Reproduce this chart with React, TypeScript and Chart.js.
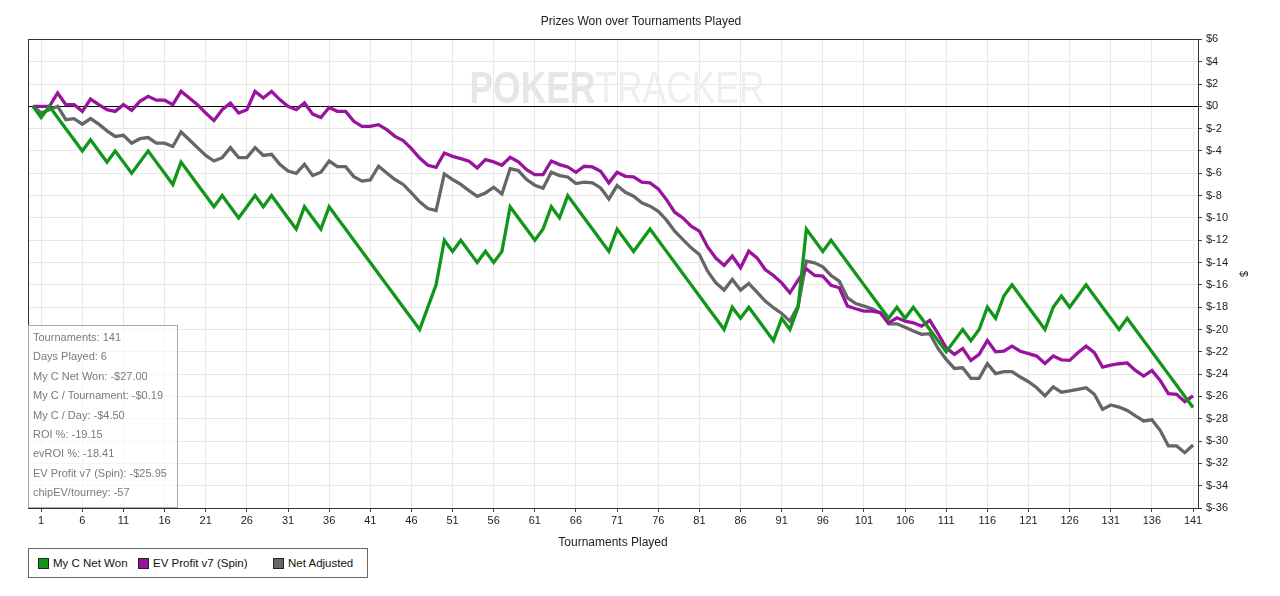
import React, { useEffect, useRef } from "react";
import { Chart, registerables } from "chart.js";

Chart.register(...registerables);

const TITLE = "Prizes Won over Tournaments Played";
const X_TITLE = "Tournaments Played";
const Y_TITLE = "$";
const X_TICKS = [1, 6, 11, 16, 21, 26, 31, 36, 41, 46, 51, 56, 61, 66, 71, 76, 81, 86, 91, 96, 101, 106, 111, 116, 121, 126, 131, 136, 141];
const X_MIN = -0.6;
const X_MAX = 141.6;
const Y_MIN = -36;
const Y_MAX = 6;
const Y_STEP = 2;

const SERIES_NAMES = ["My C Net Won", "EV Profit v7 (Spin)", "Net Adjusted"];

const NET_WON = [
  0, -1, 0, -1, -2, -3, -4, -3, -4, -5, -4, -5, -6, -5, -4, -5, -6, -7, -5, -6,
  -7, -8, -9, -8, -9, -10, -9, -8, -9, -8, -9, -10, -11, -9, -10, -11, -9, -10, -11, -12,
  -13, -14, -15, -16, -17, -18, -19, -20, -18, -16, -12, -13, -12, -13, -14, -13, -14, -13, -9, -10,
  -11, -12, -11, -9, -10, -8, -9, -10, -11, -12, -13, -11, -12, -13, -12, -11, -12, -13, -14, -15,
  -16, -17, -18, -19, -20, -18, -19, -18, -19, -20, -21, -19, -20, -18, -11, -12, -13, -12, -13, -14,
  -15, -16, -17, -18, -19, -18, -19, -18, -19, -20, -21, -22, -21, -20, -21, -20, -18, -19, -17, -16,
  -17, -18, -19, -20, -18, -17, -18, -17, -16, -17, -18, -19, -20, -19, -20, -21, -22, -23, -24, -25,
  -26, -27,
];

const EV_PROFIT = [
  0, 0, 0, 1.2, 0.15, 0.15, -0.45, 0.65, 0.15, -0.3, -0.45, 0.15, -0.35, 0.45, 0.9, 0.55, 0.55, 0.15, 1.35, 0.75,
  0.15, -0.6, -1.28, -0.3, 0.3, -0.6, -0.3, 1.34, 0.75, 1.34, 0.6, 0, -0.3, 0.3, -0.7, -1.0, -0.1, -0.45, -0.45, -1.34,
  -1.8, -1.8, -1.64, -2.09, -2.69, -3.07, -3.79, -4.63, -5.28, -5.46, -4.18, -4.48, -4.69, -4.92, -5.52, -4.78, -4.98, -5.28, -4.57, -4.98,
  -5.67, -6.12, -6.12, -4.9, -5.22, -5.43, -5.91, -5.37, -5.43, -5.82, -6.86, -5.91, -6.27, -6.33, -6.8, -6.86, -7.4, -8.36, -9.49, -10.0,
  -10.74, -11.19, -12.6, -13.6, -14.26, -13.43, -14.47, -12.98, -13.58, -14.62, -15.16, -15.82, -16.71, -15.58, -14.56, -15.16, -15.22, -16.05, -16.26, -17.9,
  -18.14, -18.35, -18.35, -18.5, -19.4, -18.95, -19.25, -19.4, -19.7, -19.19, -20.38, -21.64, -22.23, -21.7, -22.77, -22.23, -20.98, -22.0, -21.95, -21.49,
  -21.95, -22.17, -22.38, -23.05, -22.38, -22.72, -22.77, -22.08, -21.49, -22.08, -23.37, -23.19, -23.07, -23.0, -23.67, -24.17, -23.67, -24.56, -25.75, -25.81,
  -26.47, -25.95,
];

const NET_ADJUSTED = [
  0, -0.6, -0.3, 0, -1.2, -1.1, -1.6, -1.1, -1.6, -2.2, -2.7, -2.6, -3.3, -2.9, -2.8, -3.3, -3.3, -3.6, -2.3, -3.0,
  -3.7, -4.4, -4.9, -4.6, -3.7, -4.6, -4.6, -3.7, -4.4, -4.3, -5.2, -5.8, -6.0, -5.2, -6.2, -5.9, -4.9, -5.4, -5.4, -6.3,
  -6.7, -6.6, -5.37, -5.97, -6.56, -7.0, -7.76, -8.56, -9.16, -9.34, -6.06, -6.56, -7.0, -7.55, -8.06, -7.76, -7.25, -7.85, -5.58, -5.76,
  -6.56, -7.07, -7.34, -5.9, -6.21, -6.33, -6.92, -6.8, -6.86, -7.31, -8.3, -7.1, -7.7, -8.06, -8.65, -8.95, -9.4, -10.2, -11.19, -11.94,
  -12.68, -13.28, -14.77, -15.82, -16.47, -15.52, -16.47, -15.87, -16.65, -17.46, -18.05, -18.56, -19.25, -17.9, -13.88, -14.03, -14.38, -15.16, -15.67, -17.16,
  -17.67, -17.9, -18.14, -18.53, -19.5, -19.49, -19.79, -20.14, -20.44, -20.38, -21.7, -22.68, -23.49, -23.43, -24.38, -24.38, -23.07, -23.96, -23.78, -23.78,
  -24.26, -24.68, -25.22, -25.96, -25.15, -25.62, -25.51, -25.37, -25.22, -25.81, -27.16, -26.77, -26.95, -27.25, -27.75, -28.2, -28.1, -29.04, -30.44, -30.44,
  -31.04, -30.35,
];

const INFO_LINES = [
  "Tournaments: 141",
  "Days Played: 6",
  "My C Net Won: -$27.00",
  "My C / Tournament: -$0.19",
  "My C / Day: -$4.50",
  "ROI %: -19.15",
  "evROI %: -18.41",
  "EV Profit v7 (Spin): -$25.95",
  "chipEV/tourney: -57",
];

const COLORS = ["#12961a", "#9a139f", "#666666"];
const FONT = '"Liberation Sans", Arial, sans-serif';

const toPoints = (arr: number[]) => arr.map((v, i) => ({ x: i, y: v }));

const frameAndWatermark = {
  id: "frameAndWatermark",
  beforeDatasetsDraw(chart: any) {
    const { ctx, chartArea } = chart;
    ctx.save();
    const cx = (chartArea.left + chartArea.right) / 2 + 4;
    const baseY = chartArea.top + 64;
    ctx.font = `bold 44px ${FONT}`;
    const w1 = ctx.measureText("POKER").width;
    ctx.font = `44px ${FONT}`;
    const w2 = ctx.measureText("TRACKER").width;
    const total = w1 + w2;
    const targetW = 295;
    ctx.translate(cx - targetW / 2, baseY);
    ctx.scale(targetW / total, 1);
    ctx.textBaseline = "alphabetic";
    ctx.font = `bold 44px ${FONT}`;
    ctx.fillStyle = "#e6e6e6";
    ctx.fillText("POKER", 0, 0);
    ctx.font = `44px ${FONT}`;
    ctx.fillStyle = "#eeeeee";
    ctx.fillText("TRACKER", w1, 0);
    ctx.restore();

    ctx.save();
    ctx.strokeStyle = "#333";
    ctx.lineWidth = 1;
    ctx.strokeRect(
      Math.round(chartArea.left) + 0.5,
      Math.round(chartArea.top) + 0.5,
      Math.round(chartArea.right - chartArea.left),
      Math.round(chartArea.bottom - chartArea.top)
    );
    ctx.restore();
  },
};

function ChartCanvas() {
  const ref = useRef<HTMLCanvasElement | null>(null);
  useEffect(() => {
    if (!ref.current) return;
    const chart = new Chart(ref.current, {
      type: "line",
      data: {
        datasets: [
          { label: SERIES_NAMES[0], data: toPoints(NET_WON), borderColor: COLORS[0], backgroundColor: COLORS[0], borderWidth: 3.3, pointRadius: 0, tension: 0 },
          { label: SERIES_NAMES[1], data: toPoints(EV_PROFIT), borderColor: COLORS[1], backgroundColor: COLORS[1], borderWidth: 3.3, pointRadius: 0, tension: 0 },
          { label: SERIES_NAMES[2], data: toPoints(NET_ADJUSTED), borderColor: COLORS[2], backgroundColor: COLORS[2], borderWidth: 3.3, pointRadius: 0, tension: 0 },
        ],
      },
      options: {
        responsive: false,
        animation: false,
        devicePixelRatio: 1,
        layout: { padding: { left: 28, right: 26, top: 0, bottom: 46 } },
        plugins: {
          legend: { display: false },
          tooltip: { enabled: false },
          title: {
            display: true,
            text: TITLE,
            color: "#222",
            font: { size: 12, family: FONT, weight: "normal" },
            padding: { top: 14, bottom: 11 },
          },
        },
        scales: {
          x: {
            type: "linear",
            min: X_MIN,
            max: X_MAX,
            afterBuildTicks: (s: any) => {
              s.ticks = X_TICKS.map((v) => ({ value: v }));
            },
            afterFit: (s: any) => {
              s.height = 42;
            },
            ticks: { autoSkip: false, maxRotation: 0, color: "#222", font: { size: 11, family: FONT }, padding: 2 },
            grid: { color: "#e8e8e8", tickLength: 4, tickColor: "#444" },
            border: { display: true, color: "#333" },
            title: { display: true, text: X_TITLE, color: "#222", font: { size: 12, family: FONT }, padding: { top: 3, bottom: 0 } },
          },
          y: {
            position: "right",
            min: Y_MIN,
            max: Y_MAX,
            afterFit: (s: any) => {
              s.width = 56;
            },
            ticks: {
              stepSize: Y_STEP,
              color: "#222",
              font: { size: 11, family: FONT },
              padding: 4,
              callback: (v: any) => (v < 0 ? "$-" + Math.abs(v) : "$" + v),
            },
            grid: {
              color: (c: any) => (c.tick && c.tick.value === 0 ? "#000000" : "#e8e8e8"),
              tickLength: 4,
              tickColor: "#444",
            },
            border: { display: true, color: "#333" },
            title: { display: true, text: Y_TITLE, color: "#222", font: { size: 11, family: FONT } },
          },
        },
      } as any,
      plugins: [frameAndWatermark],
    });
    return () => chart.destroy();
  }, []);
  return <canvas ref={ref} width={1280} height={596} style={{ display: "block", width: 1280, height: 596 }} />;
}

export default function App() {
  const legendOffsets = [9, 109, 244];
  return (
    <div style={{ position: "absolute", left: 0, top: 0, width: 1280, height: 596, background: "#fff", fontFamily: FONT, overflow: "hidden" }}>
      <ChartCanvas />
      <div
        style={{
          position: "absolute",
          left: 28,
          top: 325,
          width: 150,
          height: 183,
          boxSizing: "border-box",
          border: "1px solid #aaaaaa",
          background: "rgba(255,255,255,0.6)",
          padding: "2px 0 0 4px",
          fontSize: 11,
          lineHeight: "19.4px",
          color: "#7a7a7a",
          whiteSpace: "nowrap",
        }}
      >
        {INFO_LINES.map((t) => (
          <div key={t}>{t}</div>
        ))}
      </div>
      <div
        style={{
          position: "absolute",
          left: 28,
          top: 548,
          width: 340,
          height: 30,
          boxSizing: "border-box",
          border: "1px solid #666",
          background: "#fff",
          fontSize: 11.5,
          color: "#111",
        }}
      >
        {SERIES_NAMES.map((name, i) => (
          <div key={name} style={{ position: "absolute", left: legendOffsets[i], top: 0, height: 28, display: "flex", alignItems: "center", whiteSpace: "nowrap" }}>
            <span style={{ display: "inline-block", width: 9, height: 9, background: COLORS[i], border: "1px solid #222", marginRight: 4 }} />
            <span>{name}</span>
          </div>
        ))}
      </div>
    </div>
  );
}
